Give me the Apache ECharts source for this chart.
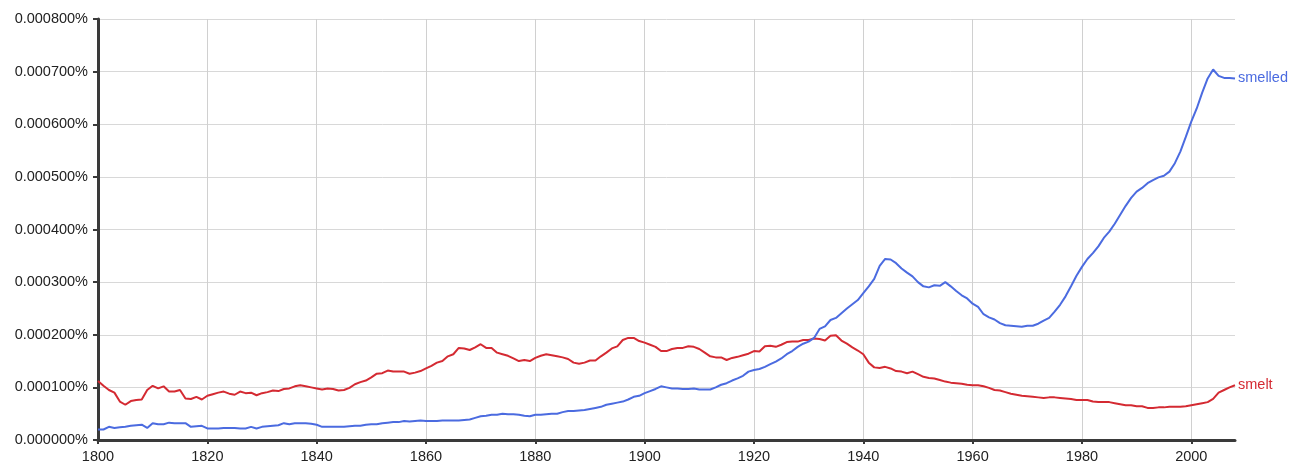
<!DOCTYPE html>
<html>
<head>
<meta charset="utf-8">
<script src="https://cdn.jsdelivr.net/npm/echarts@6/dist/echarts.min.js"></script>
<style>
  html, body { margin: 0; padding: 0; background: #fff; }
  #chart { width: 1299px; height: 474px; }
</style>
</head>
<body>
<div id="chart"></div>
<script>
// Values are in millionths of a percent (e.g. 112 => 0.000112%)
const firstYear = 1800;
const lastYear = 2008;
const xTickYears = [1800, 1820, 1840, 1860, 1880, 1900, 1920, 1940, 1960, 1980, 2000];
const yTickValues = [0, 100, 200, 300, 400, 500, 600, 700, 800];

const seriesNames = ['smelled', 'smelt'];

const smelledValues = [
  20, 20, 25, 23, 24, 25, 27, 28, 29, 23,
  32, 30, 30, 33, 32, 32, 32, 25, 26, 27,
  22, 22, 22, 23, 23, 23, 22, 22, 25, 22,
  25, 26, 27, 28, 32, 30, 32, 32, 32, 31,
  29, 25, 25, 25, 25, 25, 26, 27, 27, 29,
  30, 30, 32, 33, 34, 34, 36, 35, 36, 37,
  36, 36, 36, 37, 37, 37, 37, 38, 39, 42,
  45, 46, 48, 48, 50, 49, 49, 48, 46, 45,
  48, 48, 49, 50, 50, 53, 55, 55, 56, 57,
  59, 61, 63, 67, 69, 71, 73, 77, 82, 84,
  89, 93, 97, 102, 100, 98, 98, 97, 97, 98,
  96, 96, 96, 100, 105, 108, 113, 117, 122, 130,
  133, 135, 139, 144, 149, 155, 163, 169, 177, 183,
  187, 194, 211, 216, 228, 232, 241, 250, 258, 266,
  279, 292, 306, 331, 344, 343, 336, 326, 318, 311,
  300, 292, 290, 294, 293, 300, 292, 283, 275, 269,
  259, 253, 239, 233, 229, 222, 218, 217, 216, 215,
  217, 217, 221, 227, 232, 244, 257, 273, 292, 312,
  329, 344, 355, 368, 384, 396, 411, 428, 445, 460,
  472, 479, 488, 494, 499, 502, 510, 526, 548, 576,
  605, 630, 660, 687, 704, 692, 688, 688, 687
];

const smeltValues = [
  112, 103, 95, 90, 73, 67, 74, 76, 77, 95,
  103, 98, 102, 92, 92, 95, 79, 78, 82, 77,
  84, 87, 90, 92, 88, 86, 92, 89, 90, 85,
  89, 91, 94, 93, 97, 98, 102, 104, 102, 100,
  98, 96, 98, 97, 94, 95, 99, 106, 110, 113,
  119, 126, 127, 132, 130, 130, 130, 126, 128, 131,
  136, 141, 147, 150, 159, 163, 175, 174, 171, 176,
  182, 175, 175, 166, 163, 160, 155, 150, 152, 150,
  156, 160, 163, 161, 159, 157, 154, 147, 145, 147,
  151, 151, 159, 166, 174, 178, 190, 194, 194, 188,
  185, 181, 177, 169, 169, 173, 175, 175, 178, 177,
  173, 166, 159, 157, 157, 152, 156, 158, 161, 164,
  169, 168, 178, 179, 177, 181, 186, 187, 187, 190,
  190, 193, 192, 189, 198, 199, 189, 183, 176, 170,
  163, 147, 138, 137, 139, 136, 131, 130, 127, 130,
  125, 120, 118, 117, 114, 111, 109, 108, 107, 105,
  104, 104, 102, 99, 95, 94, 91, 88, 86, 84,
  83, 82, 81, 80, 81, 81, 80, 79, 78, 76,
  76, 76, 73, 72, 72, 72, 70, 68, 66, 66,
  64, 64, 61, 61, 62, 62, 63, 63, 63, 64,
  66, 68, 70, 72, 78, 90, 95, 100, 104
];

const seriesColors = ['#4b6be0', '#d42a32'];

const years = [];
for (let y = firstYear; y <= lastYear; y++) years.push(y);

function pairs(vals) { return years.map((y, i) => [y, vals[i]]); }

const FONT = '"Liberation Sans", Arial, sans-serif';
const chart = echarts.init(document.getElementById('chart'), null, { renderer: 'canvas' });

// vertical grid colours: visible at every 20-year tick, hidden at the 2008 axis end
const vGridColors = xTickYears.map(() => '#d0d0d0').concat(['rgba(0,0,0,0)']);

chart.setOption({
  animation: false,
  backgroundColor: '#ffffff',
  grid: { left: 98, right: 64, top: 19, bottom: 34, containLabel: false },
  xAxis: {
    type: 'value',
    min: firstYear,
    max: lastYear,
    interval: 20,
    axisLine: { show: true, onZero: false, lineStyle: { color: '#3a3a3a', width: 3 } },
    axisTick: { show: true, length: 4, customValues: xTickYears, lineStyle: { color: '#3a3a3a', width: 2 } },
    axisLabel: {
      color: '#222', fontFamily: FONT, fontSize: 14.5, margin: 9,
      customValues: xTickYears,
      formatter: v => String(v)
    },
    splitLine: { show: true, lineStyle: { color: vGridColors, width: 1 } }
  },
  yAxis: {
    type: 'value',
    min: yTickValues[0],
    max: yTickValues[yTickValues.length - 1],
    interval: 100,
    axisLine: { show: true, lineStyle: { color: '#3a3a3a', width: 3 } },
    axisTick: { show: true, length: 5, lineStyle: { color: '#3a3a3a', width: 2 } },
    axisLabel: {
      color: '#222', fontFamily: FONT, fontSize: 14.5, margin: 10,
      formatter: v => (v / 1e6).toFixed(6) + '%'
    },
    splitLine: { show: true, lineStyle: { color: '#d8d8d8', width: 1 } }
  },
  series: [
    {
      name: seriesNames[0],
      type: 'line',
      data: pairs(smelledValues),
      showSymbol: false,
      symbol: 'none',
      lineStyle: { color: seriesColors[0], width: 2 },
      itemStyle: { color: seriesColors[0] },
      endLabel: { show: true, formatter: '{a}', color: seriesColors[0], fontFamily: FONT, fontSize: 14.5, distance: 3 },
      z: 3
    },
    {
      name: seriesNames[1],
      type: 'line',
      data: pairs(smeltValues),
      showSymbol: false,
      symbol: 'none',
      lineStyle: { color: seriesColors[1], width: 2 },
      itemStyle: { color: seriesColors[1] },
      endLabel: { show: true, formatter: '{a}', color: seriesColors[1], fontFamily: FONT, fontSize: 14.5, distance: 3 },
      z: 2
    }
  ]
});
</script>
</body>
</html>
